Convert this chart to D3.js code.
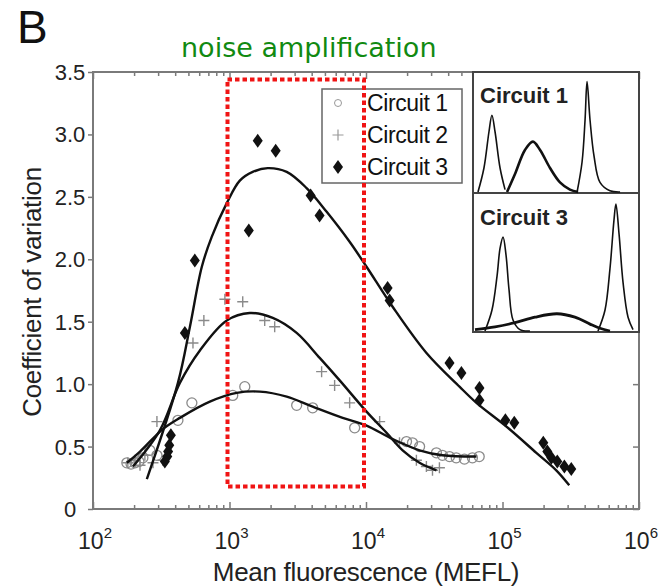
<!DOCTYPE html>
<html>
<head>
<meta charset="utf-8">
<script src="https://cdn.jsdelivr.net/npm/d3@7"></script>
<style>
body { margin: 0; background: #fff; }
text { font-family: "Liberation Sans", Arial, sans-serif; }
</style>
</head>
<body>
<svg id="thesvg" width="663" height="587"></svg>
<script>
// ---- data ----
var names = ["Circuit 1", "Circuit 2", "Circuit 3"];
var yTicks = [0, 0.5, 1, 1.5, 2, 2.5, 3, 3.5];
var yTickLabels = ["0", "0.5", "1.0", "1.5", "2.0", "2.5", "3.0", "3.5"];
var xDecades = [1e2, 1e3, 1e4, 1e5, 1e6];
var xExponents = ["2", "3", "4", "5", "6"];

// measured points (MEFL, CV)
var c1x = [177, 190, 203, 217, 232, 261, 294, 419, 530, 1056, 1294, 3105, 4066, 8260, 19800, 21900, 24700, 32800, 36300, 40900, 45800, 52600, 60200, 67500];
var c1y = [0.37, 0.36, 0.37, 0.38, 0.41, 0.47, 0.43, 0.71, 0.85, 0.91, 0.98, 0.83, 0.81, 0.65, 0.54, 0.53, 0.50, 0.45, 0.43, 0.42, 0.41, 0.40, 0.41, 0.42];

var c2x = [180, 203, 221, 240, 275, 325, 294, 540, 649, 925, 1250, 1811, 2143, 4730, 5890, 7590, 12590, 17600, 23400, 27700, 30700, 34500];
var c2y = [0.37, 0.39, 0.35, 0.43, 0.37, 0.39, 0.70, 1.33, 1.51, 1.68, 1.66, 1.51, 1.46, 1.10, 0.99, 0.85, 0.70, 0.53, 0.39, 0.34, 0.31, 0.33];

var c3x = [336, 350, 355, 362, 372, 471, 557, 1385, 1610, 2180, 3930, 4570, 14400, 14900, 40900, 50000, 67800, 67800, 105000, 122000, 199000, 213000, 228000, 252000, 284000, 319000];
var c3y = [0.38, 0.42, 0.46, 0.51, 0.59, 1.41, 1.99, 2.23, 2.95, 2.87, 2.51, 2.35, 1.77, 1.67, 1.17, 1.09, 0.97, 0.87, 0.71, 0.69, 0.53, 0.46, 0.41, 0.38, 0.34, 0.32];

// fitted curves
var f1x = [177, 221, 325, 433, 718, 1130, 1667, 2625, 4066, 6745, 10000, 15670, 24670, 36300, 64420];
var f1y = [0.37, 0.46, 0.64, 0.73, 0.86, 0.93, 0.94, 0.90, 0.82, 0.73, 0.67, 0.56, 0.47, 0.43, 0.42];

var f2x = [196, 309, 433, 607, 955, 1406, 2075, 3105, 4580, 6415, 10090, 14150, 18550, 24670, 32820];
var f2y = [0.34, 0.63, 1.01, 1.27, 1.51, 1.57, 1.53, 1.41, 1.21, 1.03, 0.78, 0.61, 0.47, 0.37, 0.31];

var f3x = [248, 419, 513, 627, 741, 955, 1190, 1479, 1905, 2624, 3673, 5152, 7586, 10090, 15670, 27730, 48420, 64420, 106900, 177000, 247700, 308300];
var f3y = [0.24, 1.01, 1.46, 1.94, 2.18, 2.45, 2.63, 2.70, 2.73, 2.70, 2.57, 2.38, 2.14, 1.94, 1.62, 1.25, 0.98, 0.85, 0.66, 0.45, 0.31, 0.19];

// highlighted window
var boxX = [1e3, 1e4];
var boxY = [0.18, 3.44];

// inset histograms (position 0-100, relative height 0-1)
var h1a_x = [3, 6.6, 9.6, 11.4, 13.3, 16.3, 19.3];
var h1a_y = [0, 0.2, 0.5, 0.64, 0.5, 0.2, 0.02];
var h1b_x = [20.5, 25.3, 31.3, 36.1, 40.4, 46.4, 52.4, 58.4, 63.3];
var h1b_y = [0, 0.15, 0.35, 0.42, 0.35, 0.2, 0.08, 0.02, 0];
var h1c_x = [62.7, 65.7, 67.5, 68.7, 70.5, 72.9, 76.5, 82.5, 88.6];
var h1c_y = [0, 0.25, 0.6, 0.92, 0.6, 0.3, 0.08, 0.01, 0];

var h3a_x = [7.2, 11.4, 14.5, 16.3, 18.1, 19.9, 21.7, 24.1, 28.3, 34.3];
var h3a_y = [0, 0.15, 0.4, 0.6, 0.68, 0.55, 0.3, 0.08, 0.01, 0];
var h3b_x = [1.2, 13.3, 25.3, 37.3, 50.6, 61.4, 70.5, 76.5, 82.5];
var h3b_y = [0.01, 0.03, 0.06, 0.1, 0.125, 0.1, 0.05, 0.02, 0];
var h3c_x = [75.3, 79.5, 82.5, 84.9, 86.1, 88, 90.4, 93.4, 96.4];
var h3c_y = [0, 0.15, 0.45, 0.8, 0.92, 0.7, 0.35, 0.1, 0.01];

// ---- layout ----
var pL = 93, pR = 639, pT = 72, pB = 509;
var svg = d3.select("#thesvg");

var x = d3.scaleLog().domain([1e2, 1e6]).range([pL, pR]);
var y = d3.scaleLinear().domain([0, 3.5]).range([pB, pT]);

function zip(a, b) { return a.map(function(v, i) { return [v, b[i]]; }); }

var frameColor = "#7a7a7a";

// axes ticks
var minor = x.ticks().filter(function(v) { return xDecades.indexOf(v) < 0; });

svg.append("g").attr("transform", "translate(0," + pB + ")")
    .call(d3.axisBottom(x).tickValues(minor).tickSize(-4).tickFormat(""));
svg.append("g").attr("transform", "translate(0," + pB + ")")
    .call(d3.axisBottom(x).tickValues(xDecades).tickSize(-7).tickFormat(""));
svg.append("g").attr("transform", "translate(0," + pT + ")")
    .call(d3.axisTop(x).tickValues(minor).tickSize(-4).tickFormat(""));
svg.append("g").attr("transform", "translate(0," + pT + ")")
    .call(d3.axisTop(x).tickValues(xDecades).tickSize(-7).tickFormat(""));
svg.append("g").attr("transform", "translate(" + pL + ",0)")
    .call(d3.axisLeft(y).tickValues(yTicks).tickSize(5).tickFormat(""));
svg.append("g").attr("transform", "translate(" + pR + ",0)")
    .call(d3.axisLeft(y).tickValues(yTicks).tickSize(6).tickFormat(""));

svg.selectAll(".domain").remove();
svg.selectAll(".tick line").attr("stroke", frameColor).attr("stroke-width", 1.5);

svg.append("rect")
    .attr("x", pL).attr("y", pT)
    .attr("width", pR - pL).attr("height", pB - pT)
    .attr("fill", "none").attr("stroke", frameColor).attr("stroke-width", 2);

// tick labels
svg.selectAll(".ylab").data(yTicks).enter().append("text")
    .attr("x", 70).attr("y", function(d) { return y(d) + 8; })
    .attr("text-anchor", "middle")
    .style("font-size", "22px").style("fill", "#222")
    .text(function(d, i) { return yTickLabels[i]; });

var xl = svg.selectAll(".xlab").data(xDecades).enter().append("text")
    .attr("x", function(d) { return x(d) + 2; }).attr("y", 549)
    .attr("text-anchor", "middle")
    .style("font-size", "23px").style("fill", "#222");
xl.append("tspan").text("10");
xl.append("tspan").attr("dy", -11).style("font-size", "15px")
    .text(function(d, i) { return xExponents[i]; });

// axis titles
svg.append("text")
    .attr("transform", "translate(41,292) rotate(-90)")
    .attr("text-anchor", "middle")
    .style("font-size", "26px").style("letter-spacing", "-0.3px").style("fill", "#222")
    .text("Coefficient of variation");

svg.append("text")
    .attr("x", 366).attr("y", 581)
    .attr("text-anchor", "middle")
    .style("font-size", "26px").style("letter-spacing", "-0.3px").style("fill", "#222")
    .text("Mean fluorescence (MEFL)");

svg.append("text")
    .attr("x", 17).attr("y", 43)
    .style("font-size", "46px").style("fill", "#111")
    .text("B");

svg.append("text")
    .attr("x", 181).attr("y", 57)
    .style("font-family", "'DejaVu Sans', Verdana, sans-serif")
    .style("font-size", "27px").style("fill", "#118a11")
    .text("noise amplification");

// markers
var grey = "#8a8a8a";
var plusPath = "M-5.5,0H5.5M0,-5.5V5.5";
var diamondPath = "M0,-7L5,0L0,7L-5,0Z";

svg.append("g").selectAll("circle").data(zip(c1x, c1y)).enter().append("circle")
    .attr("cx", function(d) { return x(d[0]); })
    .attr("cy", function(d) { return y(d[1]); })
    .attr("r", 5)
    .attr("fill", "none").attr("stroke", grey).attr("stroke-width", 1.3);

svg.append("g").selectAll("path").data(zip(c2x, c2y)).enter().append("path")
    .attr("transform", function(d) { return "translate(" + x(d[0]) + "," + y(d[1]) + ")"; })
    .attr("d", plusPath)
    .attr("fill", "none").attr("stroke", grey).attr("stroke-width", 1.4);

svg.append("g").selectAll("path").data(zip(c3x, c3y)).enter().append("path")
    .attr("transform", function(d) { return "translate(" + x(d[0]) + "," + y(d[1]) + ")"; })
    .attr("d", diamondPath)
    .attr("fill", "#111");

// fitted curves
var line = d3.line()
    .x(function(d) { return x(d[0]); })
    .y(function(d) { return y(d[1]); })
    .curve(d3.curveCatmullRom.alpha(0.5));

[[f1x, f1y], [f2x, f2y], [f3x, f3y]].forEach(function(f) {
    svg.append("path")
        .datum(zip(f[0], f[1]))
        .attr("d", line)
        .attr("fill", "none").attr("stroke", "#111").attr("stroke-width", 2.4);
});

// legend
var lg = svg.append("g");
lg.append("rect").attr("x", 322).attr("y", 89).attr("width", 140).attr("height", 94)
    .attr("fill", "#fff").attr("stroke", "#666").attr("stroke-width", 1.5);
names.forEach(function(n, i) {
    var ly = 103 + i * 32;
    if (i == 0) {
        lg.append("circle").attr("cx", 338).attr("cy", ly).attr("r", 3.5)
            .attr("fill", "none").attr("stroke", "#999").attr("stroke-width", 1);
    } else if (i == 1) {
        lg.append("path").attr("transform", "translate(338," + ly + ")").attr("d", plusPath)
            .attr("fill", "none").attr("stroke", "#999").attr("stroke-width", 1.2);
    } else {
        lg.append("path").attr("transform", "translate(338," + ly + ")").attr("d", diamondPath)
            .attr("fill", "#111");
    }
    lg.append("text").attr("x", 367).attr("y", ly + 8)
        .style("font-size", "23px").style("letter-spacing", "-0.4px").style("fill", "#111")
        .text(n);
});

// red dotted window
svg.append("rect")
    .attr("x", x(boxX[0]) - 2).attr("y", y(boxY[1]))
    .attr("width", x(boxX[1]) - x(boxX[0]))
    .attr("height", y(boxY[0]) - y(boxY[1]))
    .attr("fill", "none").attr("stroke", "#f01414")
    .attr("stroke-width", 4).attr("stroke-dasharray", "4.5,3");

// inset
var insL = 473, insR = 639, insMid = 193, insB = 332;
var ix = d3.scaleLinear().domain([0, 100]).range([insL, insR]);
var iy1 = d3.scaleLinear().domain([0, 1]).range([insMid - 1, pT]);
var iy3 = d3.scaleLinear().domain([0, 1]).range([insB - 1, insMid]);

svg.append("rect").attr("x", insL).attr("y", pT)
    .attr("width", insR - insL).attr("height", insB - pT)
    .attr("fill", "#fff").attr("stroke", "#444").attr("stroke-width", 2);
svg.append("line").attr("x1", insL).attr("x2", insR).attr("y1", insMid).attr("y2", insMid)
    .attr("stroke", "#444").attr("stroke-width", 2);

function hist(xs, ys, sy, w) {
    var l = d3.line()
        .x(function(d) { return ix(d[0]); })
        .y(function(d) { return sy(d[1]); })
        .curve(d3.curveCatmullRom.alpha(0.5));
    svg.append("path").datum(zip(xs, ys)).attr("d", l)
        .attr("fill", "none").attr("stroke", "#111").attr("stroke-width", w);
}
hist(h1a_x, h1a_y, iy1, 1.6);
hist(h1b_x, h1b_y, iy1, 2.6);
hist(h1c_x, h1c_y, iy1, 1.6);
hist(h3a_x, h3a_y, iy3, 1.6);
hist(h3b_x, h3b_y, iy3, 2.8);
hist(h3c_x, h3c_y, iy3, 1.6);

svg.append("text").attr("x", 480).attr("y", 103)
    .style("font-size", "22px").style("font-weight", "bold").style("fill", "#222")
    .text("Circuit 1");
svg.append("text").attr("x", 480).attr("y", 225)
    .style("font-size", "22px").style("font-weight", "bold").style("fill", "#222")
    .text("Circuit 3");
</script>
</body>
</html>
